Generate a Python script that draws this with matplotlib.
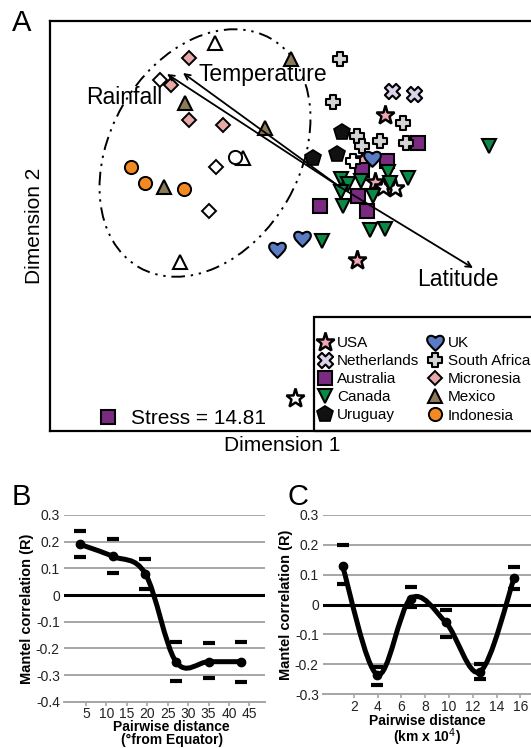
import matplotlib
matplotlib.use("Agg")
import matplotlib.pyplot as plt
import numpy as np
from matplotlib.path import Path
from matplotlib.patches import Ellipse, PathPatch, Rectangle
from matplotlib.lines import Line2D
from matplotlib.transforms import Affine2D

plt.rcParams['font.family'] = ['Liberation Sans', 'DejaVu Sans']

# ---- panel A: NMDS scores (arbitrary units) ----
usa_x = [0.225, 0.175, 0.085, 0.117]
usa_y = [0.36, 0.027, -0.365, 0.139]
usa_w_x = [0.217, 0.275, -0.225]
usa_w_y = [0.002, -0.007, -1.055]
neth_x = [0.258, 0.37]
neth_y = [0.482, 0.465]
aus_x = [0.392, 0.233, 0.108, 0.092, 0.133, -0.1]
aus_y = [0.218, 0.131, 0.085, -0.045, -0.118, -0.095]
can_x = [0.745, 0.242, 0.342, 0.003, 0.042, 0.103, 0.003, 0.167, 0.017, 0.15, 0.225, -0.09, 0.25]
can_y = [0.205, 0.077, 0.043, 0.038, 0.015, 0.032, -0.023, -0.045, -0.095, -0.215, -0.21, -0.27, 0.02]
uru_x = [0.008, -0.017, -0.133]
uru_y = [0.277, 0.163, 0.143]
uk_x = [0.158, -0.19, -0.315]
uk_y = [0.143, -0.255, -0.31]
saf_x = [0.0, -0.037, 0.317, 0.087, 0.2, 0.33, 0.112]
saf_y = [0.64, 0.427, 0.32, 0.255, 0.232, 0.218, 0.205]
saf_w_x = [0.067]
saf_w_y = [0.132]
mic_x = [-0.755, -0.847, -0.753, -0.587]
mic_y = [0.645, 0.51, 0.335, 0.31]
mic_w_x = [-0.9, -0.622, -0.655]
mic_w_y = [0.535, 0.102, -0.12]
mex_x = [-0.245, -0.775, -0.375, -0.88]
mex_y = [0.64, 0.419, 0.294, -0.002]
mex_w_x = [-0.625, -0.487, -0.8]
mex_w_y = [0.72, 0.144, -0.375]
ind_x = [-1.045, -0.975, -0.78]
ind_y = [0.1, 0.02, -0.012]
ind_w_x = [-0.525]
ind_w_y = [0.152]

vec_names = ['Rainfall', 'Temperature', 'Latitude']
vec_x = [-0.865, -0.785, 0.665]
vec_y = [0.565, 0.57, -0.405]
stress = 14.81

# ---- panels B and C: Mantel correlograms ----
lat_x = [3.5, 11.5, 19.5, 27, 35, 43]
lat_r = [0.19, 0.145, 0.08, -0.25, -0.25, -0.25]
lat_hi = [0.24, 0.21, 0.135, -0.178, -0.18, -0.175]
lat_lo = [0.142, 0.084, 0.023, -0.324, -0.31, -0.328]

km_x = [1.05, 3.96, 6.78, 9.73, 12.62, 15.49]
km_r = [0.128, -0.235, 0.02, -0.06, -0.225, 0.09]
km_hi = [0.2, -0.21, 0.06, -0.02, -0.2, 0.125]
km_lo = [0.07, -0.27, -0.01, -0.108, -0.25, 0.053]

# custom marker shapes
heart = Path([(0, -1), (-0.55, -0.45), (-1, -0.1), (-1, 0.35),
              (-1, 0.8), (-0.45, 1.0), (0, 0.55),
              (0.45, 1.0), (1, 0.8), (1, 0.35),
              (1, -0.1), (0.55, -0.45), (0, -1), (0, -1)],
             [Path.MOVETO] + [Path.CURVE4] * 12 + [Path.CLOSEPOLY])
w = 0.36
fat_plus = Path([(-w, 1), (w, 1), (w, w), (1, w), (1, -w), (w, -w), (w, -1),
                 (-w, -1), (-w, -w), (-1, -w), (-1, w), (-w, w), (-w, 1)], closed=True)
fat_x = Affine2D().rotate_deg(45).transform_path(fat_plus)

W, H = 531, 748
fig = plt.figure(figsize=(W / 100, H / 100), dpi=100)


def px_box(left, top, right, bottom):
    return [left / W, 1 - bottom / H, (right - left) / W, (bottom - top) / H]


# ================= A =================
ax = fig.add_axes(px_box(50, 21, 540, 431))
ax.set_xlim(-1.45, 1.0)
ax.set_ylim(-1.22, 0.83)
ax.set_xticks([])
ax.set_yticks([])
for s in ax.spines.values():
    s.set_linewidth(1.6)
ax.spines['right'].set_visible(False)

ax.add_patch(Ellipse((-0.675, 0.17), 1.32, 0.95, angle=60, fill=False,
                     ec='black', lw=1.4, ls=(0, (7, 3, 1.2, 3, 1.2, 3)), zorder=1))


def pts(x, y, label, marker, fc, ms, mew=1.3):
    return ax.plot(x, y, ls='none', marker=marker, mfc=fc, mec='black', ms=ms,
                   mew=mew, label=label, zorder=3)[0]


h_usa = pts(usa_x, usa_y, 'USA', '*', '#f2a6b4', 14, 1.8)
pts(usa_w_x, usa_w_y, None, '*', 'white', 14, 1.8)
h_neth = pts(neth_x, neth_y, 'Netherlands', fat_x, '#dcd3ea', 11, 1.5)
h_aus = pts(aus_x, aus_y, 'Australia', 's', '#7b2a82', 9.5, 1.5)
h_can = pts(can_x, can_y, 'Canada', 'v', '#0b8a45', 10.5, 1.5)
h_uru = pts(uru_x, uru_y, 'Uruguay', 'p', '#111111', 12, 1.2)
h_uk = pts(uk_x, uk_y, 'UK', heart, '#5a7cc4', 12, 1.5)
h_saf = pts(saf_x, saf_y, 'South Africa', fat_plus, '#d4d4d4', 10.5, 1.5)
pts(saf_w_x, saf_w_y, None, fat_plus, 'white', 10.5, 1.5)
h_mic = pts(mic_x, mic_y, 'Micronesia', 'D', '#e8a8a8', 7.5, 1.4)
pts(mic_w_x, mic_w_y, None, 'D', 'white', 7.5, 1.4)
h_mex = pts(mex_x, mex_y, 'Mexico', '^', '#8b7b58', 10.5, 1.5)
pts(mex_w_x, mex_w_y, None, '^', 'white', 10.5, 1.5)
h_ind = pts(ind_x, ind_y, 'Indonesia', 'o', '#f28a21', 9.5, 1.4)
pts(ind_w_x, ind_w_y, None, 'o', 'white', 9.5, 1.4)

for name, vx, vy in zip(vec_names, vec_x, vec_y):
    ax.annotate('', xy=(vx, vy), xytext=(0, 0),
                arrowprops=dict(arrowstyle='->', lw=1.3, color='black',
                                shrinkA=0, shrinkB=0, mutation_scale=10), zorder=4)
ax.text(-1.27, 0.45, 'Rainfall', fontsize=16.5, va='center', ha='left', zorder=5)
ax.text(-0.705, 0.565, 'Temperature', fontsize=16.5, va='center', ha='left', zorder=5)
ax.text(0.385, -0.465, 'Latitude', fontsize=16.5, va='center', ha='left', zorder=5)

order = [h_usa, h_neth, h_aus, h_can, h_uru, h_uk, h_saf, h_mic, h_mex, h_ind]
leg = ax.legend(handles=order, ncol=2, loc='upper left',
                bbox_to_anchor=(318 / W, 1 - 336 / H), bbox_transform=fig.transFigure,
                frameon=False, fontsize=11, handlelength=0.9, handletextpad=0.35,
                columnspacing=0.6, labelspacing=0.27, borderpad=0, borderaxespad=0)
ax.add_artist(leg)
fig.patches.append(Rectangle((314 / W, 1 - 431 / H), 240 / W, 114 / H,
                             transform=fig.transFigure, fill=False, ec='black', lw=1.6))

stress_handle = Line2D([], [], ls='none', marker='s', mfc='#7b2a82', mec='black',
                       mew=1.5, ms=9.5)
ax.legend(handles=[stress_handle], labels=['Stress = %.2f' % stress], loc='lower left',
          bbox_to_anchor=(98 / W, 1 - 428 / H), bbox_transform=fig.transFigure,
          frameon=False, fontsize=15, handlelength=1.0, handletextpad=0.6,
          borderpad=0, borderaxespad=0)

fig.text(22 / W, 1 - 23 / H, 'A', fontsize=21, ha='center', va='center')
fig.text(35 / W, 1 - 226 / H, 'Dimension 2', fontsize=15, rotation=90,
         ha='center', va='center')
fig.text(281.7 / W, 1 - 445.7 / H, 'Dimension 1', fontsize=15, ha='center', va='center')


# ================= B and C =================
def smooth_path(xs, ys):
    p = np.column_stack([xs, ys]).astype(float)
    ext = np.vstack([p[0], p, p[-1]])
    verts = [p[0]]
    codes = [Path.MOVETO]
    for i in range(len(p) - 1):
        a, b, c, d = ext[i], ext[i + 1], ext[i + 2], ext[i + 3]
        verts += [b + (c - a) / 6, c - (d - b) / 6, c]
        codes += [Path.CURVE4] * 3
    return Path(verts, codes)


def correlogram(box, xs, rs, hi, lo, xlim, yticks, xticks, xlabel):
    a = fig.add_axes(box)
    a.set_xlim(*xlim)
    a.set_ylim(yticks[0], yticks[-1])
    a.set_yticks(yticks)
    a.set_yticklabels(['0' if abs(t) < 1e-9 else '%.1f' % t for t in yticks])
    a.set_xticks(xticks)
    a.set_xticklabels([str(t) for t in xticks])
    for k in ['top', 'left', 'right']:
        a.spines[k].set_visible(False)
    a.spines['bottom'].set_color('#a6a6a6')
    a.spines['bottom'].set_linewidth(1.4)
    a.tick_params(axis='y', length=0, pad=3, labelsize=10, labelcolor='#222222')
    a.tick_params(axis='x', length=3, width=1.2, color='#a6a6a6', pad=1, labelsize=10,
                  labelcolor='#222222')
    a.grid(axis='y', color='#a6a6a6', lw=1.4)
    a.set_axisbelow(True)
    a.axhline(0, color='black', lw=2.2, zorder=2)
    a.add_patch(PathPatch(smooth_path(xs, rs), fill=False, ec='black', lw=3.6,
                          capstyle='round', zorder=3))
    a.plot(xs, rs, ls='none', marker='o', color='black', ms=6, zorder=4)
    a.plot(xs, hi, ls='none', marker='_', color='black', ms=8, mew=3, zorder=4)
    a.plot(xs, lo, ls='none', marker='_', color='black', ms=8, mew=3, zorder=4)
    a.set_xlabel(xlabel, fontsize=10, fontweight='bold', labelpad=0, linespacing=0.95)
    a.set_ylabel('Mantel correlation (R)', fontsize=10.5, fontweight='bold', labelpad=1)
    return a


axb = correlogram(px_box(64, 515, 265, 701.7), lat_x, lat_r, lat_hi, lat_lo,
                  (-0.4, 48.8), [-0.4, -0.3, -0.2, -0.1, 0.0, 0.1, 0.2, 0.3],
                  [5, 10, 15, 20, 25, 30, 35, 40, 45],
                  'Pairwise distance\n(°from Equator)')
axc = correlogram(px_box(323, 515, 531, 694), km_x, km_r, km_hi, km_lo,
                  (-0.6, 16.9), [-0.3, -0.2, -0.1, 0.0, 0.1, 0.2, 0.3],
                  [2, 4, 6, 8, 10, 12, 14, 16],
                  'Pairwise distance\n(km x 10$^4$)')
axb.xaxis.set_label_coords(0.536, -0.097, transform=axb.transAxes)
axb.xaxis.label.set_va('top')

fig.text(21.7 / W, 1 - 497 / H, 'B', fontsize=21, ha='center', va='center')
fig.text(297.7 / W, 1 - 497 / H, 'C', fontsize=21, ha='center', va='center')

fig.savefig('out.png', dpi=100)
